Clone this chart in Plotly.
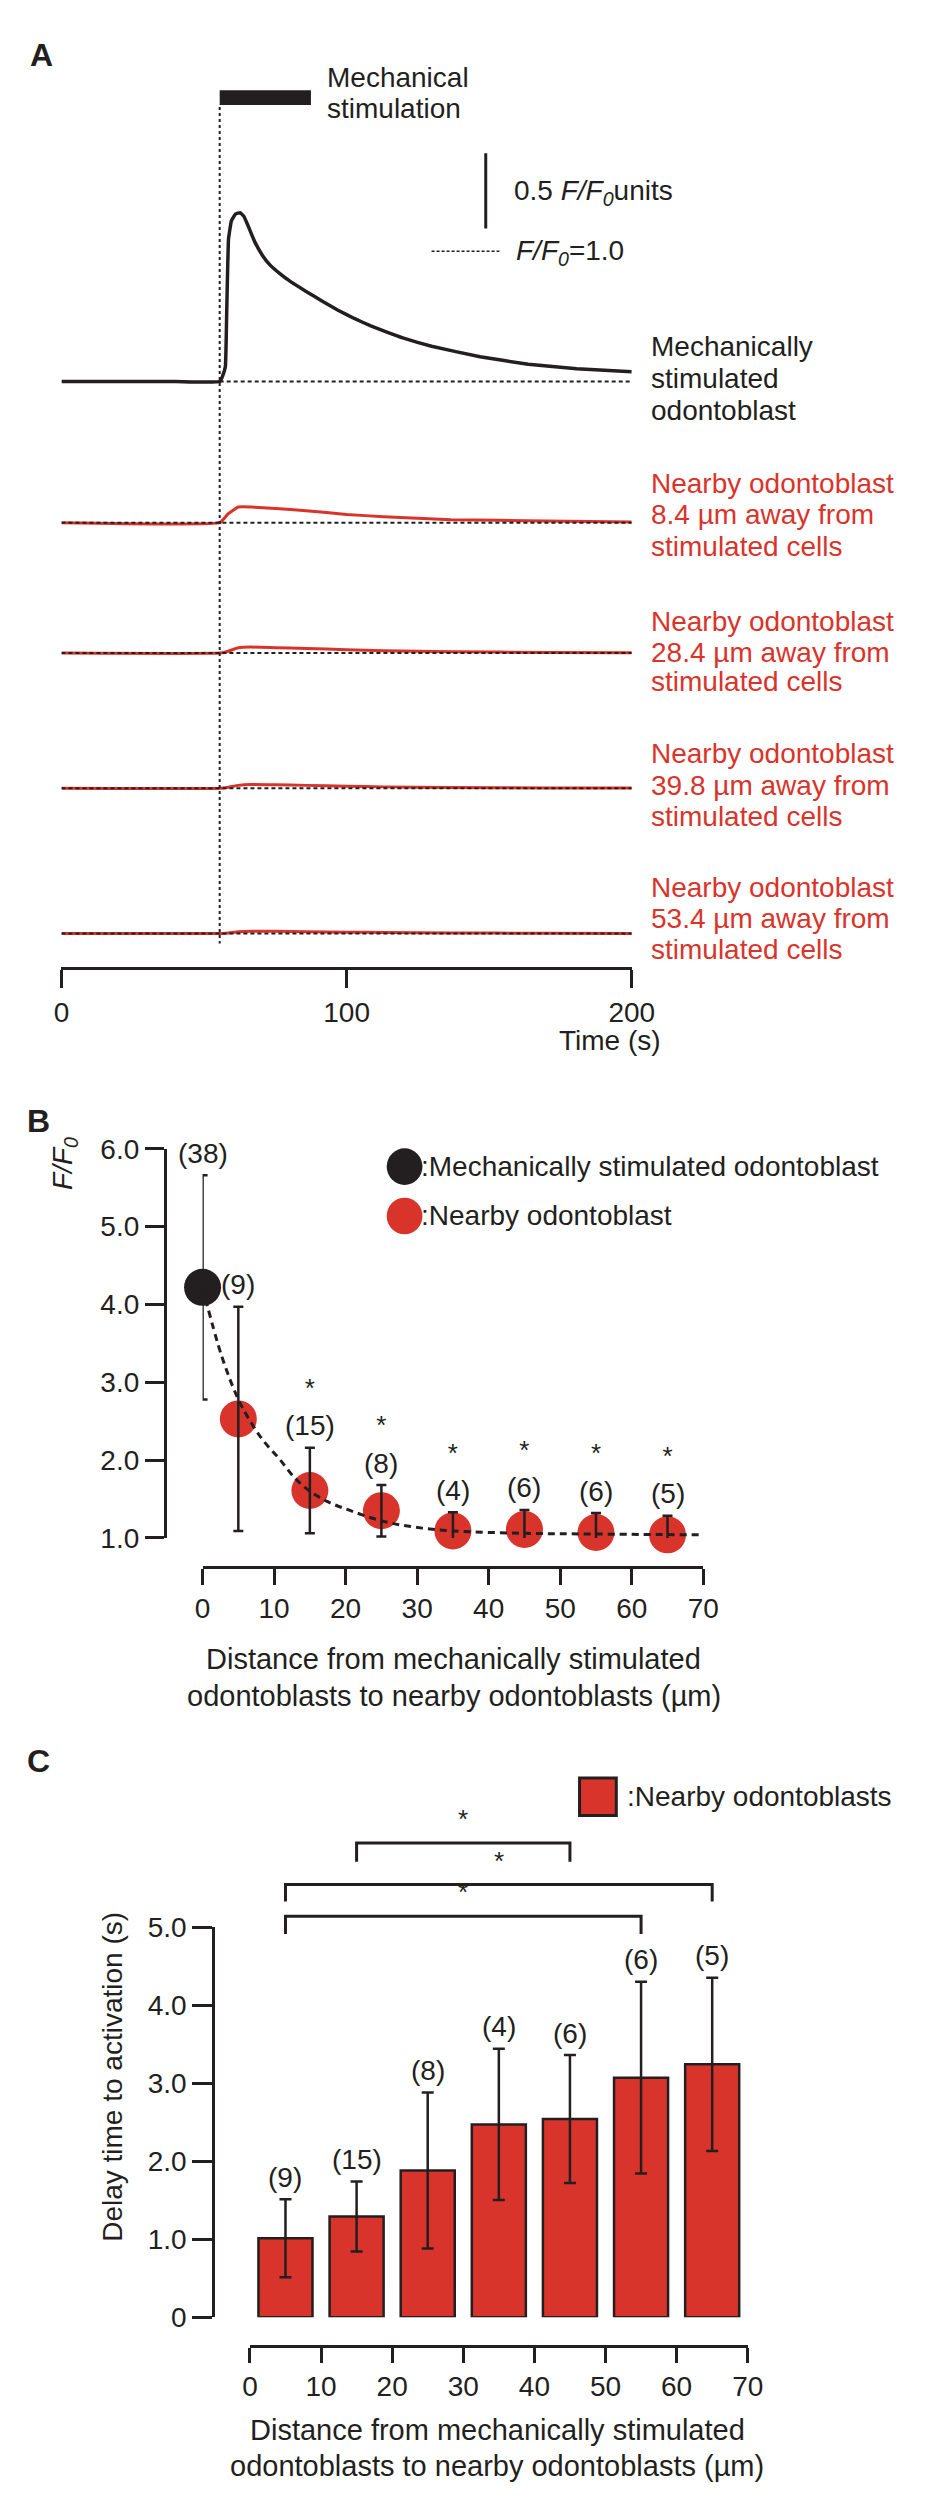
import plotly.graph_objects as go

W, H = 929, 2496
INK = "#231f20"
RED = "#d9342b"
FONT = "Liberation Sans, Arial, sans-serif"

# ---------------- data ----------------
# Panel A: example traces (F/F0 vs time)
stim_on, stim_off = 55.5, 87.5
mech_t = [0, 20, 40, 55.6, 56.6, 57.5, 58.0, 58.6, 59.6, 61.0, 62.7, 64.0, 65.4, 67.8,
          70.5, 73.2, 76.5, 80.0, 85.8, 91.5, 97.0, 102.7, 108.5, 113.9, 119.7, 129.8,
          146.8, 163.7, 180.7, 200]
mech_f = [1.0, 1.0, 1.0, 1.0, 1.04, 1.10, 1.50, 1.95, 2.07, 2.115, 2.125, 2.10, 2.04, 1.93,
          1.84, 1.775, 1.72, 1.67, 1.60, 1.535, 1.475, 1.42, 1.37, 1.33, 1.29, 1.235,
          1.165, 1.115, 1.085, 1.065]

nearby_t = [0, 55.6, 58.5, 62.0, 66.5, 75.0, 85.8, 100.0, 113.0, 136.6, 170.0, 200.0]
nearby_8_4 = [1.0, 1.0, 1.06, 1.105, 1.105, 1.095, 1.08, 1.055, 1.04, 1.02, 1.012, 1.005]
nearby_28_4 = [1.0, 1.0, 1.012, 1.035, 1.04, 1.036, 1.031, 1.022, 1.015, 1.009, 1.004, 1.002]
nearby_39_8 = [1.0, 1.0, 1.008, 1.02, 1.026, 1.024, 1.02, 1.014, 1.01, 1.006, 1.003, 1.002]
nearby_53_4 = [1.0, 1.0, 1.004, 1.012, 1.016, 1.015, 1.012, 1.009, 1.007, 1.004, 1.002, 1.001]

time_ticks = [0, 100, 200]

# Panel B: peak F/F0 vs distance
dist_b = [0, 5, 15, 25, 35, 45, 55, 65]
ff0_mean = [4.22, 2.53, 1.61, 1.35, 1.09, 1.11, 1.07, 1.04]
ff0_err = [1.44, 1.44, 0.55, 0.33, 0.24, 0.25, 0.25, 0.245]
n_b = [38, 9, 15, 8, 4, 6, 6, 5]
sig_b = [False, False, True, True, True, True, True, True]
fit_x = [0, 2.7, 5, 6.8, 8.5, 10.7, 12.9, 15, 17.4, 20.7, 25, 29.6, 35, 45, 55, 70]
fit_y = [4.22, 3.33, 2.78, 2.48, 2.25, 2.02, 1.77, 1.60, 1.47, 1.35, 1.22, 1.14, 1.09,
         1.06, 1.05, 1.04]

# Panel C: delay time vs distance
dist_c = [5, 15, 25, 35, 45, 55, 65]
delay_mean = [1.01, 1.29, 1.88, 2.47, 2.54, 3.07, 3.24]
delay_err = [0.50, 0.45, 1.00, 0.97, 0.82, 1.23, 1.11]
n_c = [9, 15, 8, 4, 6, 6, 5]
sig_pairs = [(15, 45), (5, 65), (5, 55)]


# ---------------- layout helpers ----------------
def px(x):
    return x / W


def py(y):
    return 1 - y / H


# panel A geometry (pixels)
A_TOP, A_BOT, A_BASE, A_SCALE = 60, 956, 363, 152.0
B_SCALE = 79.0  # px per F/F0 unit in panel B


def a_val(ypix):
    return 1 + (A_BASE - ypix) / A_SCALE


trace_base_px = [363, 506, 638, 775, 922]
shifts = [-(b - A_BASE) / A_SCALE for b in trace_base_px]

fig = go.Figure()

# ---------------- panel A ----------------
series = [(mech_t, mech_f, INK, 3.5), (nearby_t, nearby_8_4, RED, 3),
          (nearby_t, nearby_28_4, RED, 3), (nearby_t, nearby_39_8, RED, 3),
          (nearby_t, nearby_53_4, RED, 3)]
for (t, f, col, lw), sh in zip(series, shifts):
    fig.add_trace(go.Scatter(x=t, y=[v + sh for v in f], mode="lines",
                             line=dict(color=col, width=lw, shape="spline", smoothing=0.3),
                             xaxis="x", yaxis="y", hoverinfo="skip"))
# F/F0 = 1.0 reference lines
for i, sh in enumerate(shifts):
    x0 = stim_on if i == 0 else 0
    fig.add_trace(go.Scatter(x=[x0, 200], y=[1 + sh, 1 + sh], mode="lines",
                             line=dict(color=INK, width=2, dash="4px,3px"),
                             xaxis="x", yaxis="y", hoverinfo="skip"))
# scale bar 0.5 F/F0 units
sb_t = 148.8
fig.add_trace(go.Scatter(x=[sb_t, sb_t], y=[a_val(208), a_val(208) + 0.5], mode="lines",
                         line=dict(color=INK, width=3), xaxis="x", yaxis="y",
                         hoverinfo="skip"))
# dotted legend sample
fig.add_trace(go.Scatter(x=[129.8, 153.6], y=[a_val(231)] * 2, mode="lines",
                         line=dict(color=INK, width=1.5, dash="3px,2px"),
                         xaxis="x", yaxis="y", hoverinfo="skip"))

shapes = []
shapes.append(dict(type="rect", xref="x", yref="y", x0=stim_on, x1=stim_off,
                   y0=a_val(83), y1=a_val(68), fillcolor=INK, line=dict(width=0)))
shapes.append(dict(type="line", xref="x", yref="y", x0=stim_on, x1=stim_on,
                   y0=a_val(85), y1=a_val(932), line=dict(color=INK, width=2, dash="3px,3px")))

ann = []


def text(x, y, s, size=28, color=INK, xanchor="left", yanchor="middle", **kw):
    ann.append(dict(x=x, y=y, xref="paper", yref="paper", text=s, showarrow=False,
                    xanchor=xanchor, yanchor=yanchor,
                    font=dict(family=FONT, size=size, color=color), **kw))


text(px(12), py(32), "<b>A</b>", size=32)
text(px(320), py(55), "Mechanical")
text(px(320), py(87), "stimulation")
text(px(513), py(172), "0.5 <i>F/F</i><sub><i>0</i></sub>units")
text(px(515), py(232), "<i>F/F</i><sub><i>0</i></sub>=1.0")

label_lines = [
    (["Mechanically", "stimulated", "odontoblast"], INK, [328, 360, 392]),
    (["Nearby odontoblast", "8.4 µm away from", "stimulated cells"], RED, [466, 498, 530]),
    (["Nearby odontoblast", "28.4 µm away from", "stimulated cells"], RED, [606, 637, 667]),
    (["Nearby odontoblast", "39.8 µm away from", "stimulated cells"], RED, [740, 772, 803]),
    (["Nearby odontoblast", "53.4 µm away from", "stimulated cells"], RED, [875, 907, 938]),
]
for lines, col, ys in label_lines:
    for s, yy in zip(lines, ys):
        text(px(655), py(yy), s, color=col)
text(px(615), py(1030), "Time (s)", xanchor="center")

# ---------------- panel B ----------------
fig.add_trace(go.Scatter(x=dist_b, y=ff0_mean, mode="markers",
                         marker=dict(size=37, color=[INK] + [RED] * (len(dist_b) - 1),
                                     line=dict(width=0)),
                         cliponaxis=False, xaxis="x2", yaxis="y2", hoverinfo="skip"))
fig.add_trace(go.Scatter(x=fit_x, y=fit_y, mode="lines",
                         line=dict(color=INK, width=3, dash="7px,5px", shape="spline"),
                         xaxis="x2", yaxis="y2", hoverinfo="skip"))
fig.add_trace(go.Scatter(x=dist_b, y=ff0_mean, mode="markers",
                         marker=dict(size=1, opacity=0),
                         error_y=dict(type="data", array=ff0_err, color=INK, thickness=2.5,
                                      width=5),
                         cliponaxis=False, xaxis="x2", yaxis="y2", hoverinfo="skip"))
for d, m, e, n in zip(dist_b, ff0_mean, ff0_err, n_b):
    ann.append(dict(x=d, y=m + e, xref="x2", yref="y2", text=f"({n})", showarrow=False,
                    yshift=22, font=dict(family=FONT, size=28, color=INK)))
# significance stars above the sample sizes
star_x = [d for d, s in zip(dist_b, sig_b) if s]
star_y = [m + e + 58 / B_SCALE for m, e, s in zip(ff0_mean, ff0_err, sig_b) if s]
fig.add_trace(go.Scatter(x=star_x, y=star_y, mode="text", text=["*"] * len(star_x),
                         textposition="middle center",
                         textfont=dict(family=FONT, size=26, color=INK),
                         cliponaxis=False, xaxis="x2", yaxis="y2", hoverinfo="skip"))

text(px(23), py(1112), "<b>B</b>", size=32, xanchor="center")
text(px(50), py(1155), "<i>F/F</i><sub><i>0</i></sub>", xanchor="center", textangle=-90)
for cy, col, lab in [(1158, INK, ":Mechanically stimulated odontoblast"),
                     (1208, RED, ":Nearby odontoblast")]:
    shapes.append(dict(type="circle", xref="paper", yref="paper",
                       x0=px(402 - 18.5), x1=px(402 + 18.5), y0=py(cy + 18.5), y1=py(cy - 18.5),
                       fillcolor=col, line=dict(width=0)))
    text(px(417), py(cy), lab)
text(px(453), py(1657), "Distance from mechanically stimulated", size=29, xanchor="center")
text(px(453), py(1694), "odontoblasts to nearby odontoblasts (µm)", size=29, xanchor="center")

# ---------------- panel C ----------------
fig.add_trace(go.Bar(x=dist_c, y=delay_mean, width=7.6,
                     marker=dict(color=RED, line=dict(color=INK, width=2.5)),
                     error_y=dict(type="data", array=delay_err, color=INK, thickness=2.5,
                                  width=6),
                     xaxis="x3", yaxis="y3", hoverinfo="skip"))
for d, m, e, n in zip(dist_c, delay_mean, delay_err, n_c):
    ann.append(dict(x=d, y=m + e, xref="x3", yref="y3", text=f"({n})", showarrow=False,
                    yshift=22, font=dict(family=FONT, size=28, color=INK)))

bracket_px = [(1843, 1862), (1885, 1902), (1917, 1935)]
for (a, b), (yh, yl) in zip(sig_pairs, bracket_px):
    shapes.append(dict(type="path", xref="x3", yref="paper",
                       path=f"M {a},{py(yl)} L {a},{py(yh)} L {b},{py(yh)} L {b},{py(yl)}",
                       line=dict(color=INK, width=3)))
    ann.append(dict(x=(a + b) / 2, y=py(yh - 7), xref="x3", yref="paper", text="*",
                    showarrow=False, yanchor="bottom",
                    font=dict(family=FONT, size=26, color=INK)))

text(px(23), py(1760), "<b>C</b>", size=32, xanchor="center")
shapes.append(dict(type="rect", xref="paper", yref="paper", x0=px(583), x1=px(621),
                   y0=py(1815), y1=py(1777), fillcolor=RED, line=dict(color=INK, width=3)))
text(px(630), py(1796), ":Nearby odontoblasts")
text(px(100), py(2080), "Delay time to activation (s)", xanchor="center", textangle=-90)
text(px(498), py(2437), "Distance from mechanically stimulated", size=29, xanchor="center")
text(px(498), py(2474), "odontoblasts to nearby odontoblasts (µm)", size=29, xanchor="center")

# ---------------- axes ----------------
tick_font = dict(family=FONT, size=28, color=INK)
common = dict(showgrid=False, zeroline=False, showline=True, linecolor=INK, linewidth=3,
              ticks="outside", tickcolor=INK, tickwidth=3, tickfont=tick_font)

fig.update_layout(
    width=W, height=H, margin=dict(l=0, r=0, t=0, b=0),
    paper_bgcolor="white", plot_bgcolor="white", showlegend=False,
    xaxis=dict(domain=[px(47), px(637)], range=[0, 200], tickvals=time_ticks,
               ticklen=18, anchor="y", **common),
    yaxis=dict(domain=[py(A_BOT), py(A_TOP)], range=[a_val(A_BOT), a_val(A_TOP)],
               visible=False, anchor="x"),
    xaxis2=dict(domain=[px(193), px(711)], range=[0, 70], tickvals=list(range(0, 71, 10)),
                ticklen=16, anchor="free", position=py(1563), **common),
    yaxis2=dict(domain=[py(1534), py(1140)], range=[1, 6], tickvals=[1, 2, 3, 4, 5, 6],
                tickformat=".1f", ticklen=19, anchor="free", position=px(154), **common),
    xaxis3=dict(domain=[px(242), px(757)], range=[0, 70], tickvals=list(range(0, 71, 10)),
                ticklen=15, anchor="free", position=py(2352), **common),
    yaxis3=dict(domain=[py(2323), py(1928)], range=[0, 5], tickvals=[0, 1, 2, 3, 4, 5],
                ticktext=["0", "1.0", "2.0", "3.0", "4.0", "5.0"], ticklen=20,
                anchor="free", position=px(204), **common),
    shapes=shapes,
    annotations=ann,
)

fig.write_html("out.html")
